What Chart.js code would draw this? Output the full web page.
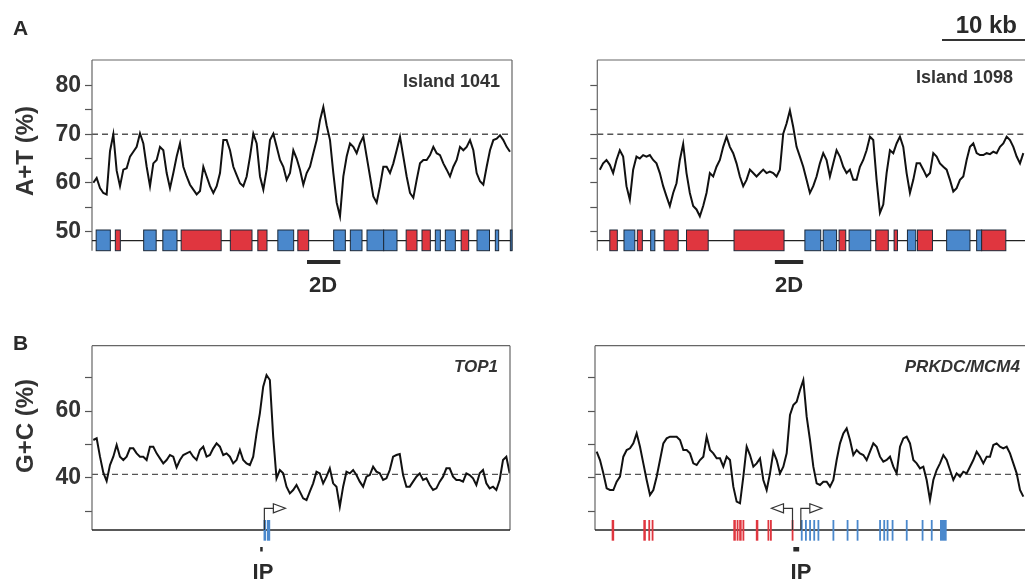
<!DOCTYPE html>
<html>
<head>
<meta charset="utf-8">
<script src="https://cdn.jsdelivr.net/npm/chart.js@4.4.1/dist/chart.umd.min.js"></script>
<style>
  html, body { margin: 0; padding: 0; background: #fff; }
  body { width: 1025px; height: 579px; position: relative; overflow: hidden;
         font-family: 'Liberation Sans', Arial, sans-serif; color: #2a2a2a; }
  canvas.layer { position: absolute; left: 0; top: 0; }
  .lbl { position: absolute; font-weight: bold; white-space: nowrap; line-height: 1; }
  .mid { transform: translateX(-50%); }
  .ytitle { position: absolute; font-weight: bold; font-size: 24px; line-height: 1; white-space: nowrap;
            color: #333; transform: translate(-50%, -50%) rotate(-90deg); }
  .scalebar { position: absolute; left: 942px; top: 39px; width: 83px; height: 2px; background: #333; }
</style>
</head>
<body>
<canvas id="aLeft" class="layer" width="1025" height="579"></canvas>
<canvas id="aRight" class="layer" width="1025" height="579"></canvas>
<canvas id="bLeft" class="layer" width="1025" height="579"></canvas>
<canvas id="bRight" class="layer" width="1025" height="579"></canvas>

<div class="lbl" style="left:13px; top:17px; font-size:21px;">A</div>
<div class="lbl" style="left:13px; top:332px; font-size:21px;">B</div>
<div class="ytitle" style="left:25px; top:151px;">A+T (%)</div>
<div class="ytitle" style="left:25px; top:426px;">G+C (%)</div>
<div class="lbl" style="right:525px; top:72px; font-size:18px; color:#333;">Island 1041</div>
<div class="lbl" style="right:12px; top:68px; font-size:18px; color:#333;">Island 1098</div>
<div class="lbl" style="right:8px; top:13px; font-size:24px;">10 kb</div>
<div class="scalebar"></div>
<div class="lbl" style="right:527px; top:358px; font-size:17px; font-style:italic; color:#333;">TOP1</div>
<div class="lbl" style="right:5px; top:358px; font-size:17px; font-style:italic; color:#333;">PRKDC/MCM4</div>
<div class="lbl mid" style="left:323px; top:274px; font-size:22px;">2D</div>
<div class="lbl mid" style="left:789px; top:274px; font-size:22px;">2D</div>
<div class="lbl mid" style="left:263px; top:561px; font-size:22px;">IP</div>
<div class="lbl mid" style="left:801px; top:561px; font-size:22px;">IP</div>

<script>
// sliding window step along the sequence, in kb
const windowStep = 0.4;

// A+T (%) profiles
const island1041AT = [60.0,61.0,58.9,57.9,57.6,66.5,70.0,62.5,59.3,62.7,
  63.0,65.4,66.4,67.4,70.2,68.1,63.3,59.3,64.0,64.7,
  67.4,66.7,62.0,58.9,62.0,65.4,68.1,63.3,61.3,59.6,
  58.6,57.6,58.3,63.3,61.3,59.3,57.9,59.3,62.0,68.8,
  68.8,66.7,63.3,61.6,59.9,59.3,61.3,65.4,70.1,68.1,
  61.3,58.6,62.7,68.8,70.1,67.4,64.7,63.3,60.6,62.0,
  66.7,65.0,62.7,59.6,62.0,63.3,66.1,68.8,72.9,75.6,
  71.8,68.8,62.0,55.9,53.1,61.3,65.4,68.1,67.4,66.1,
  68.1,69.5,65.4,61.3,57.2,55.9,59.3,63.3,63.3,62.0,
  64.0,66.7,69.5,65.4,61.3,57.9,56.9,60.6,64.0,64.7,
  64.7,65.7,67.4,66.1,65.7,64.0,62.7,61.3,63.3,64.7,
  67.4,66.7,67.4,68.8,66.7,62.0,60.3,59.6,63.3,66.7,
  68.8,69.1,69.8,68.8,67.4,66.4];
const island1098AT = [62.7,64.0,64.7,63.7,62.0,64.7,66.7,65.4,59.3,56.5,
  62.7,65.4,65.0,65.7,65.4,65.7,64.7,64.0,62.0,59.3,
  57.2,55.2,57.9,59.9,64.7,68.0,62.0,57.9,55.2,54.5,
  53.1,55.2,57.9,62.0,61.3,63.3,64.7,67.4,69.5,67.4,
  66.1,64.0,61.3,59.3,60.6,62.7,62.0,61.3,62.0,62.7,
  62.0,62.3,62.0,61.3,62.7,70.1,72.2,74.9,71.5,67.4,
  65.4,63.3,60.6,57.9,59.3,61.3,64.0,66.1,64.7,61.3,
  64.0,66.7,65.4,63.3,62.0,62.7,60.6,60.6,63.3,64.7,
  66.7,69.5,68.8,60.6,53.8,55.5,62.0,66.7,66.1,68.1,
  69.5,67.4,62.0,57.9,60.6,64.0,64.0,62.7,61.3,62.0,
  66.1,65.4,64.0,63.3,62.7,60.6,58.2,58.9,60.6,61.3,
  64.7,67.4,68.1,66.1,65.7,65.7,66.1,65.9,66.4,66.1,
  67.4,68.1,69.5,68.8,67.4,65.4,64.0,66.1];

// G+C (%) profiles
const top1GC = [51.3,51.8,46.3,41.5,39.0,43.8,46.3,49.8,46.3,45.3,
  46.3,48.8,48.8,47.3,46.3,46.3,45.3,49.3,49.3,47.3,
  45.8,44.3,45.3,46.8,46.3,43.1,45.3,46.8,47.3,47.8,
  46.3,45.3,48.3,49.3,46.3,46.8,48.8,50.3,49.3,46.8,
  47.3,46.3,44.3,45.3,48.3,45.3,44.3,43.8,46.3,53.3,
  59.3,67.3,70.8,69.3,52.3,39.8,42.3,41.3,37.3,35.3,
  36.3,37.8,35.8,33.8,33.3,35.8,38.3,41.8,41.3,38.3,
  40.3,42.8,38.3,37.3,31.3,37.3,41.8,41.3,42.3,40.8,
  38.8,37.3,40.3,40.8,43.3,41.8,41.3,39.3,39.8,42.3,
  46.3,46.8,47.1,40.8,37.3,37.3,38.8,40.3,41.3,39.3,
  39.8,37.8,36.3,36.8,38.8,40.3,42.8,42.8,40.3,39.3,
  39.3,38.8,41.3,40.8,39.8,37.8,41.3,42.3,38.3,36.8,
  37.3,36.3,39.3,45.3,46.3,41.3];
const prkdcGC = [47.8,45.3,41.3,36.8,36.3,36.3,38.8,40.3,46.3,48.3,
  48.8,50.3,53.3,49.3,44.3,39.3,34.8,36.3,40.3,45.3,
  50.3,51.8,52.3,52.3,52.3,51.3,48.3,48.3,47.3,44.3,
  43.8,45.3,46.3,52.3,48.3,47.3,45.8,45.8,43.3,46.3,
  45.3,37.3,32.8,32.3,40.3,49.3,46.8,43.3,44.3,45.8,
  39.3,36.3,41.3,47.8,45.3,41.3,43.3,47.3,58.8,61.8,
  62.8,66.3,69.3,58.3,51.3,43.3,38.3,37.8,38.8,38.8,
  37.3,39.3,45.3,50.3,53.3,54.8,51.3,46.8,48.3,47.3,
  46.8,45.3,47.8,50.3,49.3,46.3,44.8,45.3,46.3,43.3,
  41.3,49.3,51.8,52.3,50.3,45.3,44.3,42.8,43.3,39.3,
  33.3,39.3,42.3,44.3,46.8,45.3,42.3,39.3,41.3,40.3,
  41.8,41.3,43.3,45.3,47.8,46.3,44.3,46.3,46.3,49.8,
  50.3,49.3,48.8,49.3,47.3,44.3,41.3,36.3,34.3];

// reference levels (dashed)
const atThreshold = 70;
const gcGenomeMean = 41;

// y ticks and labelled ticks
const atTicks = [50, 55, 60, 65, 70, 75, 80];
const atLabels = [50, 60, 70, 80];
const gcTicks = [30, 35, 40, 45, 50, 55, 60, 65, 70];
const gcLabels = [40, 60];

// genes / exons: [start kb, end kb, strand]  '+' blue, '-' red
const island1041Genes = [[0.5,2.2,'+'],[2.8,3.4,'-'],[6.2,7.7,'+'],[8.5,10.2,'+'],[10.7,15.5,'-'],
  [16.6,19.2,'-'],[19.9,21.0,'-'],[22.3,24.2,'+'],[24.7,26.0,'-'],[29.0,30.4,'+'],[31.0,32.4,'+'],
  [33.0,35.0,'+'],[35.0,36.6,'+'],[37.7,39.0,'-'],[39.6,40.6,'-'],[41.2,41.8,'+'],[42.4,43.6,'+'],
  [44.3,45.2,'-'],[46.2,47.7,'+'],[48.4,48.8,'+'],[50.2,50.4,'+']];
const island1098Genes = [[1.5,2.4,'-'],[3.2,4.5,'+'],[4.8,5.4,'-'],[6.4,6.9,'+'],[8.0,9.7,'-'],
  [10.7,13.3,'-'],[16.4,22.4,'-'],[24.9,26.8,'+'],[27.1,28.7,'+'],[29.0,29.8,'-'],[30.2,32.8,'+'],
  [33.4,34.9,'-'],[35.6,36.0,'-'],[37.2,38.2,'+'],[38.4,40.2,'-'],[41.9,44.7,'+'],[45.5,46.1,'+'],
  [46.1,49.0,'-']];
const top1Exons = [[20.6,20.9,'+'],[21.0,21.4,'+']];
const prkdcMcm4Exons = [[2.0,2.3,'-'],[5.8,6.1,'-'],[6.4,6.6,'-'],[6.8,7.0,'-'],
  [16.6,16.9,'-'],[17.0,17.2,'-'],[17.3,17.6,'-'],[17.7,17.8,'-'],[19.3,19.6,'-'],
  [20.7,20.9,'-'],[21.0,21.2,'-'],[23.6,23.8,'-'],
  [24.7,24.9,'+'],[25.2,25.4,'+'],[25.7,25.9,'+'],[26.2,26.4,'+'],[26.7,26.9,'+'],
  [28.5,28.7,'+'],[30.2,30.4,'+'],[31.4,31.6,'+'],[34.1,34.3,'+'],[34.6,34.8,'+'],
  [35.0,35.2,'+'],[35.6,35.8,'+'],[37.3,37.5,'+'],[39.2,39.4,'+'],[40.3,40.4,'+'],[41.4,42.2,'+']];

// transcription starts: [position kb, direction]
const top1Promoters = [[20.7, 1]];
const prkdcMcm4Promoters = [[23.7, -1], [24.7, 1]];

// tested fragments (2D gels / IP)
const island1041Fragment = [25.8, 29.8];
const island1098Fragment = [21.3, 24.7];
const top1IP = [20.2, 20.5];
const prkdcMcm4IP = [23.8, 24.5];

const BLUE = '#4a88cc';
const RED = '#e0363f';
const FONT = "'Liberation Sans', Arial, sans-serif";

const trackPlugin = {
    id: 'track',
    afterDatasetsDraw(chart, args, o) {
        const { ctx, chartArea: a, scales: { x } } = chart;
        ctx.save();

        // frame
        ctx.strokeStyle = '#666';
        ctx.lineWidth = 1.2;
        ctx.beginPath();
        if (o.sides.includes('l')) { ctx.moveTo(a.left, a.bottom); ctx.lineTo(a.left, a.top); }
        if (o.sides.includes('t')) { ctx.moveTo(a.left, a.top); ctx.lineTo(a.right, a.top); }
        if (o.sides.includes('r')) { ctx.moveTo(a.right, a.top); ctx.lineTo(a.right, a.bottom); }
        ctx.stroke();

        // gene axis line
        const lineY = a.bottom - o.lineOffset;
        ctx.strokeStyle = '#222';
        ctx.lineWidth = 1.3;
        ctx.beginPath();
        ctx.moveTo(a.left, lineY);
        ctx.lineTo(a.right, lineY);
        ctx.stroke();

        // genes or exons
        o.genes.forEach(([s, e, strand]) => {
            const x1 = x.getPixelForValue(s);
            let w = x.getPixelForValue(e) - x1;
            ctx.fillStyle = strand === '+' ? BLUE : RED;
            if (o.mode === 'box') {
                ctx.fillRect(x1, a.bottom - 20.7, w, 20.7);
                ctx.strokeStyle = '#1d2a3a';
                ctx.lineWidth = 1;
                ctx.strokeRect(x1, a.bottom - 20.7, w, 20.7);
            } else {
                w = Math.max(w, 1.8);
                ctx.fillRect(x1, a.bottom - 10, w, 20.7);
            }
        });

        // promoter arrows
        (o.promoters || []).forEach(([p, dir]) => {
            const px = x.getPixelForValue(p);
            const yTop = a.bottom - 21.7;
            const hx = px + dir * 9;
            ctx.strokeStyle = '#333';
            ctx.lineWidth = 1.2;
            ctx.beginPath();
            ctx.moveTo(px, a.bottom);
            ctx.lineTo(px, yTop);
            ctx.lineTo(hx, yTop);
            ctx.stroke();
            ctx.beginPath();
            ctx.moveTo(hx, yTop - 4.5);
            ctx.lineTo(hx + dir * 12, yTop);
            ctx.lineTo(hx, yTop + 4.5);
            ctx.closePath();
            ctx.fillStyle = '#fff';
            ctx.fill();
            ctx.stroke();
        });

        // fragment bar under the track
        if (o.fragment) {
            const f1 = x.getPixelForValue(o.fragment[0]);
            const f2 = x.getPixelForValue(o.fragment[1]);
            ctx.fillStyle = '#2a2a2a';
            ctx.fillRect(f1, a.bottom + o.fragOffset, f2 - f1, o.fragHeight);
        }
        ctx.restore();
    }
};

function makePanel(id, cfg) {
    const pts = cfg.values.map((v, i) => ({ x: cfg.x0 + i * windowStep, y: v }));
    return new Chart(document.getElementById(id), {
        type: 'line',
        data: {
            datasets: [
                { data: pts, borderColor: '#111', borderWidth: 2, pointRadius: 0, tension: 0 },
                { data: [{ x: 0, y: cfg.ref }, { x: cfg.span, y: cfg.ref }],
                  borderColor: '#555', borderWidth: 1.3, borderDash: [6, 4], pointRadius: 0 }
            ]
        },
        options: {
            responsive: false,
            animation: false,
            events: [],
            layout: { padding: cfg.pad },
            plugins: {
                legend: { display: false },
                tooltip: { enabled: false },
                track: cfg.track
            },
            scales: {
                x: { type: 'linear', display: false, min: 0, max: cfg.span },
                y: {
                    min: cfg.yMin,
                    max: cfg.yMax,
                    afterBuildTicks: s => { s.ticks = cfg.ticks.map(v => ({ value: v })); },
                    afterFit: s => { s.width = cfg.axisWidth; },
                    border: { display: false },
                    grid: { drawOnChartArea: false, tickLength: 7, tickColor: '#555', tickWidth: 1.2 },
                    ticks: {
                        padding: 4,
                        color: '#333',
                        font: { family: FONT, size: 23, weight: 'bold' },
                        callback: v => cfg.labels.includes(v) ? String(v) : ''
                    }
                }
            }
        },
        plugins: [trackPlugin]
    });
}

makePanel('aLeft', {
    values: island1041AT, x0: 0.16, span: 50.4, ref: atThreshold,
    yMin: 46, yMax: 85.3, ticks: atTicks, labels: atLabels, axisWidth: 92,
    pad: { left: 0, top: 60, right: 513, bottom: 328.3 },
    track: { sides: 'ltr', mode: 'box', lineOffset: 10, genes: island1041Genes,
             fragment: island1041Fragment, fragOffset: 9.3, fragHeight: 4 }
});
makePanel('aRight', {
    values: island1098AT, x0: 0.3, span: 51.3, ref: atThreshold,
    yMin: 46, yMax: 85.3, ticks: atTicks, labels: [], axisWidth: 20,
    pad: { left: 577.3, top: 60, right: 0, bottom: 328.3 },
    track: { sides: 'lt', mode: 'box', lineOffset: 10, genes: island1098Genes,
             fragment: island1098Fragment, fragOffset: 9.3, fragHeight: 4 }
});
makePanel('bLeft', {
    values: top1GC, x0: 0.16, span: 50.2, ref: gcGenomeMean,
    yMin: 24.3, yMax: 79.6, ticks: gcTicks, labels: gcLabels, axisWidth: 92,
    pad: { left: 0, top: 345.7, right: 515, bottom: 49 },
    track: { sides: 'ltr', mode: 'exon', lineOffset: 0, genes: top1Exons,
             promoters: top1Promoters, fragment: top1IP, fragOffset: 17, fragHeight: 4.5 }
});
makePanel('bRight', {
    values: prkdcGC, x0: 0.2, span: 51.6, ref: gcGenomeMean,
    yMin: 24.3, yMax: 79.6, ticks: gcTicks, labels: [], axisWidth: 20,
    pad: { left: 575, top: 345.7, right: 0, bottom: 49 },
    track: { sides: 'lt', mode: 'exon', lineOffset: 0, genes: prkdcMcm4Exons,
             promoters: prkdcMcm4Promoters, fragment: prkdcMcm4IP, fragOffset: 17, fragHeight: 4.5 }
});
</script>
</body>
</html>
